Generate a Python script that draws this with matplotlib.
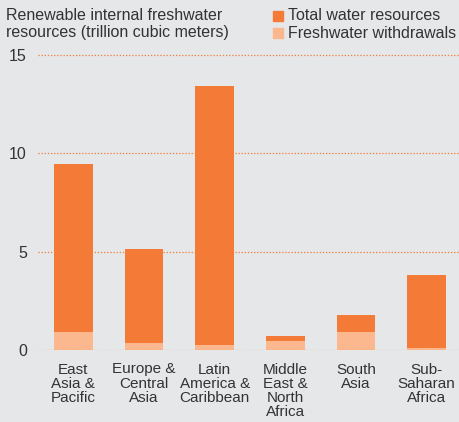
import matplotlib
matplotlib.use("Agg")
import matplotlib.pyplot as plt
from matplotlib.patches import Rectangle

categories = ["East\nAsia &\nPacific", "Europe &\nCentral\nAsia", "Latin\nAmerica &\nCaribbean",
              "Middle\nEast &\nNorth\nAfrica", "South\nAsia", "Sub-\nSaharan\nAfrica"]
total = [9.46, 5.13, 13.42, 0.71, 1.78, 3.81]
withdrawals = [0.92, 0.36, 0.25, 0.46, 0.92, 0.10]
yticks = [0, 5, 10, 15]

bg = "#E6E7E9"
c_total = "#F47A38"
c_with = "#FBB78D"
txt = "#333333"

plt.rcParams['font.family'] = ['Liberation Sans', 'DejaVu Sans']

fig = plt.figure(figsize=(4.6, 4.22), dpi=100, facecolor=bg)
ax = fig.add_axes([38/460, 1-350/422, 424/460, 295/422*16/15], facecolor=bg)
ax.set_ylim(0, 16)
ax.set_xlim(-0.5, 5.5)

x = range(len(categories))
ax.bar(x, total, width=0.55, color=c_total, zorder=2)
ax.bar(x, withdrawals, width=0.55, color=c_with, zorder=3)

for y in yticks:
    ax.axhline(y, color=c_total, linestyle=(0, (1, 1.5)), linewidth=0.9, zorder=1 if y else 4)

for s in ax.spines.values():
    s.set_visible(False)
ax.set_yticks(yticks)
ax.set_yticklabels([str(t) for t in yticks])
ax.tick_params(axis='y', length=0, pad=8, labelsize=11.5, labelcolor=txt)
ax.set_xticks(list(x))
ax.set_xticklabels(categories, linespacing=1.0)
ax.tick_params(axis='x', length=0, pad=9, labelsize=11, labelcolor=txt)

fig.text(6/460, 1-16/422, "Renewable internal freshwater", ha='left', va='center',
         fontsize=11.5, color=txt)
fig.text(6/460, 1-33/422, "resources (trillion cubic meters)", ha='left', va='center',
         fontsize=11.5, color=txt)

for i, (lab, col) in enumerate([("Total water resources", c_total), ("Freshwater withdrawals", c_with)]):
    yc = 1 - (16 + 17*i)/422
    fig.patches.append(Rectangle((273/460, yc - 5/422), 10/460, 10/422, transform=fig.transFigure,
                                 color=col, figure=fig))
    fig.text(288/460, yc, lab, ha='left', va='center', fontsize=11.5, color=txt)

fig.savefig("out.png", dpi=100, facecolor=bg)
